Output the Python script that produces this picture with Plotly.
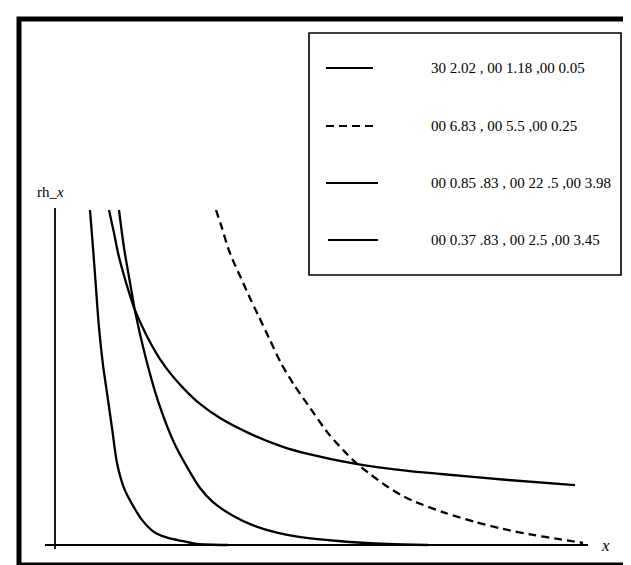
import plotly.graph_objects as go

W, H = 631, 565

# ---- data (x in axis units, y in axis units) ----
c1_x = [0.648, 0.704, 0.759, 0.815, 0.889, 0.963, 1.056, 1.148, 1.278, 1.407, 1.611, 1.833, 2.093, 2.352, 2.630, 3.204]
c1_y = [1.000, 0.887, 0.767, 0.648, 0.537, 0.454, 0.349, 0.245, 0.170, 0.128, 0.075, 0.039, 0.021, 0.012, 0.003, 0.000]

m_x = [1.185, 1.278, 1.407, 1.481, 1.667, 1.907, 2.222, 2.685, 2.926, 3.296, 3.648, 4.130, 4.519, 5.241, 6.167, 6.907]
m_y = [1.000, 0.887, 0.767, 0.699, 0.567, 0.430, 0.299, 0.170, 0.128, 0.087, 0.060, 0.036, 0.024, 0.012, 0.003, 0.000]

l_x = [1.000, 1.093, 1.167, 1.259, 1.352, 1.481, 1.611, 1.759, 1.944, 2.148, 2.389, 2.685, 3.056,
       3.630, 4.222, 4.685, 5.574, 6.537, 7.148, 8.389, 9.630]
l_y = [1.000, 0.931, 0.872, 0.815, 0.764, 0.701, 0.654, 0.606, 0.555, 0.510, 0.466, 0.421, 0.379,
       0.331, 0.293, 0.272, 0.242, 0.221, 0.212, 0.194, 0.179]

d_x = [2.981, 3.093, 3.204, 3.315, 3.444, 3.593, 3.759, 3.963, 4.185, 4.426, 4.685, 5.056, 5.333,
       5.574, 5.833, 6.111, 6.407, 6.685, 7.222, 7.778, 8.296, 8.852, 9.315, 9.778]
d_y = [1.000, 0.946, 0.887, 0.842, 0.797, 0.743, 0.687, 0.618, 0.543, 0.478, 0.418, 0.334, 0.284,
       0.245, 0.212, 0.179, 0.149, 0.128, 0.096, 0.069, 0.048, 0.030, 0.018, 0.006]

legend_labels = [
    "30 2.02 , 00 1.18 ,00 0.05",
    "00 6.83 , 00 5.5 ,00 0.25",
    "00 0.85 .83 , 00 22 .5 ,00 3.98",
    "00 0.37 .83 , 00 2.5 ,00 3.45",
]
legend_dash = ["solid", "dash", "solid", "solid"]
y_label = "rh_<i>x</i>"
x_label = "<i>x</i>"

fig = go.Figure()
for xs, ys, dash in [(l_x, l_y, "solid"), (d_x, d_y, "8px,5px"),
                     (m_x, m_y, "solid"), (c1_x, c1_y, "solid")]:
    fig.add_trace(go.Scatter(x=xs, y=ys, mode="lines",
                             line=dict(color="black", width=2.3, dash=dash,
                                       shape="spline", smoothing=0.7),
                             showlegend=False, hoverinfo="skip"))

def px(x):
    return x / W

def py(y):
    return 1 - y / H

shapes = []
# axes
shapes.append(dict(type="line", xref="x", yref="y", x0=0, x1=0, y0=-0.012, y1=1.006,
                   line=dict(color="black", width=1.8)))
shapes.append(dict(type="line", xref="x", yref="y", x0=-0.185, x1=9.87, y0=0, y1=0,
                   line=dict(color="black", width=1.8)))
# outer frame
shapes.append(dict(type="rect", xref="paper", yref="paper", x0=px(11), x1=px(627),
                   y0=py(557), y1=py(11), line=dict(color="black", width=5)))
# legend box
shapes.append(dict(type="rect", xref="paper", yref="paper", x0=px(301), x1=px(613),
                   y0=py(267), y1=py(25), line=dict(color="black", width=1.6)))

rows_y = [60, 118, 175, 232]
sample_x = [(318, 365), (318, 365), (318, 370), (320, 370)]
annotations = []
for lab, dash, ry, (sx0, sx1) in zip(legend_labels, legend_dash, rows_y, sample_x):
    shapes.append(dict(type="line", xref="paper", yref="paper", x0=px(sx0), x1=px(sx1),
                       y0=py(ry), y1=py(ry),
                       line=dict(color="black", width=2.2,
                                 dash="8px,5px" if dash == "dash" else "solid")))
    annotations.append(dict(text=lab, xref="paper", yref="paper", x=px(421), y=py(ry),
                            xanchor="left", yanchor="middle", showarrow=False,
                            font=dict(family="Liberation Serif", size=15, color="black")))

annotations.append(dict(text=y_label, xref="paper", yref="paper", x=px(27), y=py(184),
                        xanchor="left", yanchor="middle", showarrow=False,
                        font=dict(family="Liberation Serif", size=15, color="black")))
annotations.append(dict(text=x_label, xref="paper", yref="paper", x=px(597), y=py(537),
                        xanchor="center", yanchor="middle", showarrow=False,
                        font=dict(family="Liberation Serif", size=17, color="black")))

fig.update_layout(
    width=W, height=H, margin=dict(l=0, r=0, t=0, b=0),
    paper_bgcolor="white", plot_bgcolor="white",
    xaxis=dict(domain=[20 / W, 614 / W], range=[-0.5, 10.5], visible=False),
    yaxis=dict(domain=[(H - 553.75) / H, (H - 185.25) / H], range=[-0.05, 1.05], visible=False),
    shapes=shapes, annotations=annotations,
)
fig.write_html("out.html")
